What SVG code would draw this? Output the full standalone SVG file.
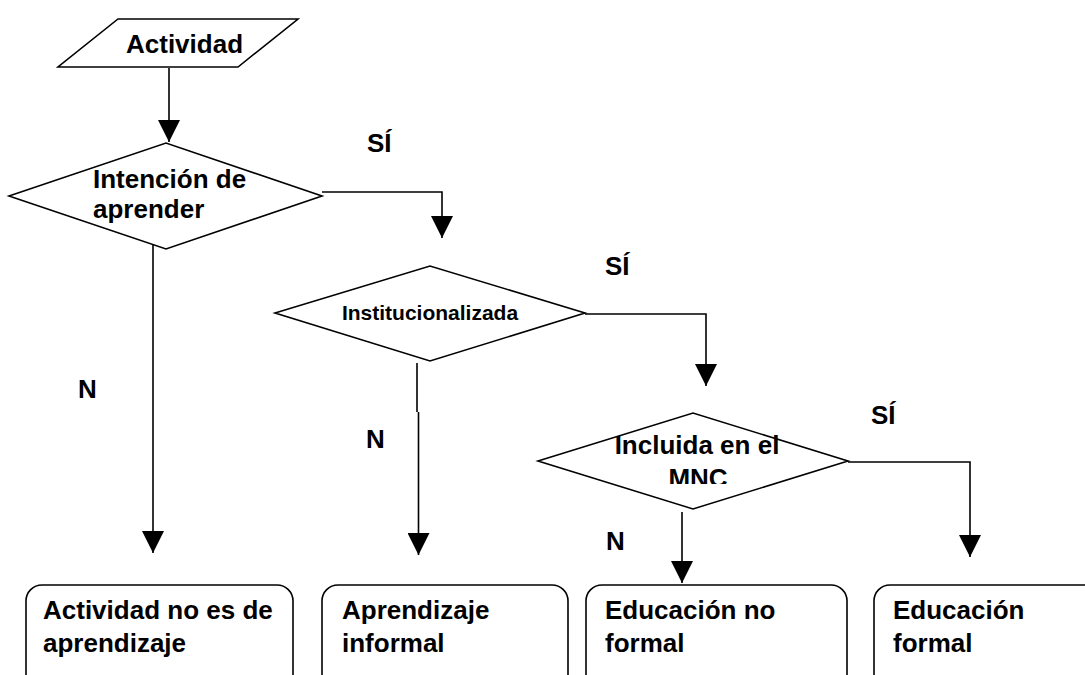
<svg xmlns="http://www.w3.org/2000/svg" width="1085" height="675" viewBox="0 0 1085 675">
<style>
.shape{fill:#fff;stroke:#000;stroke-width:1.6}
.conn{fill:none;stroke:#000;stroke-width:1.6}
.t{font-family:"Liberation Sans",Arial,sans-serif;font-weight:bold;font-size:26px;fill:#000}
.ts{font-family:"Liberation Sans",Arial,sans-serif;font-weight:bold;font-size:21px;fill:#000}
</style>
<defs>
<marker id="arr" markerUnits="userSpaceOnUse" markerWidth="22" markerHeight="22" viewBox="0 0 20 20" refX="20" refY="10" orient="auto">
<path d="M0,0 L20,10 L0,20 z" fill="#000"/>
</marker>
<clipPath id="mncClip"><rect x="600" y="460" width="200" height="24"/></clipPath>
</defs>
<rect width="1085" height="675" fill="#fff"/>

<g id="connectors">
<line class="conn" x1="169" y1="68" x2="169" y2="142" marker-end="url(#arr)"/>
<polyline class="conn" points="322,192 442,192 442,238" marker-end="url(#arr)"/>
<polyline class="conn" points="585,314 706,314 706,386" marker-end="url(#arr)"/>
<polyline class="conn" points="848,462 970,462 970,557" marker-end="url(#arr)"/>
<line class="conn" x1="153" y1="239" x2="153" y2="553" marker-end="url(#arr)"/>
<line class="conn" x1="417" y1="363" x2="417" y2="412"/>
<line class="conn" x1="418.5" y1="412" x2="418.5" y2="555" marker-end="url(#arr)"/>
<line class="conn" x1="682" y1="512" x2="682" y2="583" marker-end="url(#arr)"/>
<text class="t" x="367" y="152">SÍ</text>
<text class="t" x="605" y="275">SÍ</text>
<text class="t" x="871" y="424">SÍ</text>
<text class="t" x="78" y="398">N</text>
<text class="t" x="366" y="448">N</text>
<text class="t" x="606" y="550">N</text>
</g>

<g id="actividad">
<polygon class="shape" points="118,19 298,19 238,67 58,67"/>
<text class="t" x="126" y="53">Actividad</text>
</g>

<g id="intencion">
<polygon class="shape" points="9,196 166,143 322,196 166,249"/>
<text class="t" x="93" y="188">Intención de</text>
<text class="t" x="93" y="218">aprender</text>
</g>

<g id="institucionalizada">
<polygon class="shape" points="275,313 430,266 585,313 430,361"/>
<text class="ts" x="430" y="320" text-anchor="middle">Institucionalizada</text>
</g>

<g id="incluida">
<polygon class="shape" points="538,461 693,413 848,461 693,509"/>
<text class="t" x="697" y="454" text-anchor="middle">Incluida en el</text>
<text class="t" x="698" y="487" text-anchor="middle" clip-path="url(#mncClip)">MNC</text>
</g>

<g id="no-aprendizaje">
<rect class="shape" x="26" y="585" width="267" height="130" rx="16" ry="16"/>
<text class="t" x="43" y="619">Actividad no es de</text>
<text class="t" x="43" y="652">aprendizaje</text>
</g>

<g id="aprendizaje-informal">
<rect class="shape" x="322" y="585" width="246" height="130" rx="16" ry="16"/>
<text class="t" x="342" y="619">Aprendizaje</text>
<text class="t" x="342" y="652">informal</text>
</g>

<g id="educacion-no-formal">
<rect class="shape" x="586" y="585" width="261" height="130" rx="16" ry="16"/>
<text class="t" x="605" y="619">Educación no</text>
<text class="t" x="605" y="652">formal</text>
</g>

<g id="educacion-formal">
<rect class="shape" x="874" y="585" width="260" height="130" rx="16" ry="16"/>
<text class="t" x="893" y="619">Educación</text>
<text class="t" x="893" y="652">formal</text>
</g>
</svg>
